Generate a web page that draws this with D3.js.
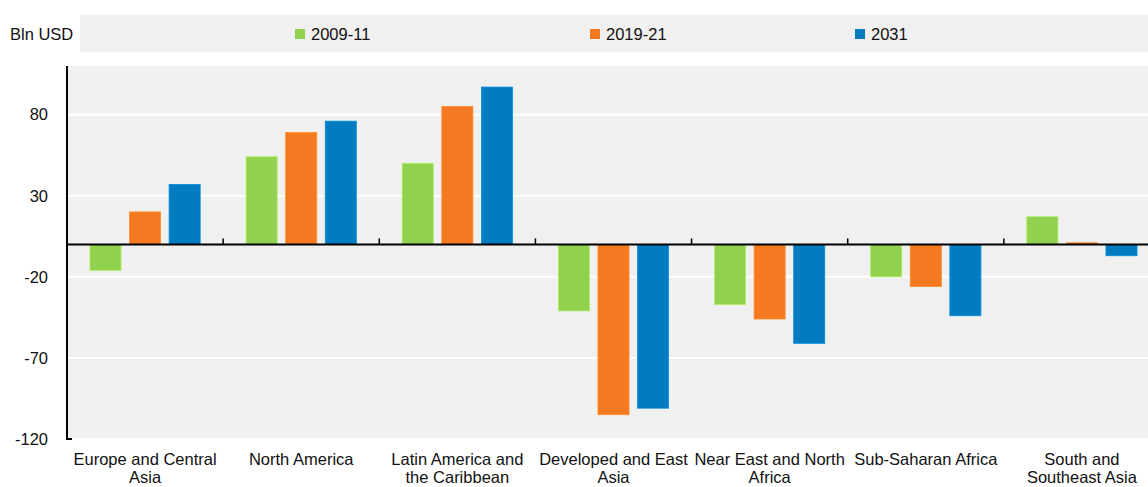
<!DOCTYPE html>
<html>
<head>
<meta charset="utf-8">
<script src="https://cdn.jsdelivr.net/npm/d3@7"></script>
<style>
  body { margin: 0; background: #fff; }
  svg { display: block; font-family: "Liberation Sans", Arial, sans-serif; }
</style>
</head>
<body>
<div id="canvas"></div>
<script>
// regions, each label split over the lines it is drawn on
const regions = [
  "Europe and Central Asia",
  "North America",
  "Latin America and the Caribbean",
  "Developed and East Asia",
  "Near East and North Africa",
  "Sub-Saharan Africa",
  "South and Southeast Asia"
];
const regionLines = [
  ["Europe and Central", "Asia"],
  ["North America"],
  ["Latin America and", "the Caribbean"],
  ["Developed and East", "Asia"],
  ["Near East and North", "Africa"],
  ["Sub-Saharan Africa"],
  ["South and", "Southeast Asia"]
];

const seriesNames = ["2009-11", "2019-21", "2031"];
const colors = ["#92d050", "#f47920", "#037bc1"];

// Bln USD
const v2009 = [-16, 54, 50, -41, -37, -20, 17];
const v2019 = [20, 69, 85, -105, -46, -26, 1];
const v2031 = [37, 76, 97, -101, -61, -44, -7];

const yTicks = [-120, -70, -20, 30, 80];
const unitLabel = "Bln USD";

const W = 1148, H = 487;
const plot = {left: 67, right: 1160, top: 66, bottom: 439};
const fs = 16.5;

const svg = d3.select("#canvas")
  .append("svg")
    .attr("width", W)
    .attr("height", H);

const x0 = d3.scaleBand()
  .domain(regions)
  .range([plot.left, plot.right]);

const x1 = d3.scaleBand()
  .domain(seriesNames)
  .range([0, x0.bandwidth()])
  .paddingInner(0.215)
  .paddingOuter(0.58);

const y = d3.scaleLinear()
  .domain([-120, 110])
  .range([plot.bottom, plot.top]);

// legend strip
svg.append("rect")
  .attr("x", 80).attr("y", 15)
  .attr("width", W - 80).attr("height", 37)
  .attr("fill", "#f0f0f0");

svg.append("text")
  .attr("x", 10).attr("y", 40)
  .attr("font-size", fs)
  .attr("fill", "#111")
  .text(unitLabel);

const legendX = [295, 590, 855];
const legend = svg.selectAll(".legend")
  .data(seriesNames)
  .enter()
  .append("g")
    .attr("class", "legend")
    .attr("transform", (d, i) => `translate(${legendX[i]},29)`);

legend.append("rect")
  .attr("width", 10).attr("height", 10)
  .attr("fill", (d, i) => colors[i]);

legend.append("text")
  .attr("x", 16).attr("y", 11)
  .attr("font-size", fs)
  .attr("fill", "#111")
  .text(d => d);

// plot background
svg.append("rect")
  .attr("x", plot.left).attr("y", plot.top)
  .attr("width", W - plot.left).attr("height", plot.bottom - plot.top)
  .attr("fill", "#f0f0f0");

// gridlines
svg.selectAll(".grid")
  .data(yTicks)
  .enter()
  .append("line")
    .attr("x1", plot.left).attr("x2", W)
    .attr("y1", d => y(d)).attr("y2", d => y(d))
    .attr("stroke", "#fff")
    .attr("stroke-width", 2);

// bars
const rows = regions.map((r, i) => ({
  region: r,
  values: [v2009[i], v2019[i], v2031[i]]
}));

const groups = svg.selectAll(".group")
  .data(rows)
  .enter()
  .append("g")
    .attr("transform", d => `translate(${x0(d.region)},0)`);

groups.selectAll("rect")
  .data(d => d.values.map((v, i) => ({key: seriesNames[i], value: v, i: i})))
  .enter()
  .append("rect")
    .attr("x", d => x1(d.key))
    .attr("y", d => y(Math.max(0, d.value)))
    .attr("width", x1.bandwidth())
    .attr("height", d => Math.abs(y(d.value) - y(0)))
    .attr("fill", d => colors[d.i])
    .attr("stroke", d => d3.color(colors[d.i]).brighter(0.4))
    .attr("stroke-width", 0.8);

// y axis (plain hyphen for negatives, as in the original)
const yAxis = d3.axisLeft(y)
  .tickValues(yTicks)
  .tickSize(0)
  .tickPadding(19)
  .tickFormat(d => String(d));

const gy = svg.append("g")
  .attr("transform", `translate(${plot.left},0)`)
  .call(yAxis);
gy.select(".domain").remove();
gy.selectAll("text")
  .attr("font-size", fs)
  .attr("font-family", "Liberation Sans, Arial, sans-serif")
  .attr("fill", "#111");

svg.append("line")
  .attr("x1", plot.left).attr("x2", plot.left)
  .attr("y1", plot.top).attr("y2", plot.bottom + 1)
  .attr("stroke", "#000")
  .attr("stroke-width", 2);
svg.append("line")
  .attr("x1", plot.left - 1).attr("x2", plot.left + 5)
  .attr("y1", plot.bottom).attr("y2", plot.bottom)
  .attr("stroke", "#000")
  .attr("stroke-width", 2);

// zero line with group separators
svg.append("line")
  .attr("x1", plot.left).attr("x2", W)
  .attr("y1", y(0)).attr("y2", y(0))
  .attr("stroke", "#000")
  .attr("stroke-width", 2);

svg.selectAll(".sep")
  .data(regions.slice(1))
  .enter()
  .append("line")
    .attr("x1", d => x0(d)).attr("x2", d => x0(d))
    .attr("y1", y(0) - 6).attr("y2", y(0))
    .attr("stroke", "#000")
    .attr("stroke-width", 1.5);

// category labels
const labels = svg.selectAll(".cat")
  .data(regions)
  .enter()
  .append("text")
    .attr("x", d => x0(d) + x0.bandwidth() / 2)
    .attr("y", 465)
    .attr("text-anchor", "middle")
    .attr("font-size", fs)
    .attr("fill", "#111");

labels.selectAll("tspan")
  .data((d, i) => regionLines[i])
  .enter()
  .append("tspan")
    .attr("x", function() { return d3.select(this.parentNode).attr("x"); })
    .attr("dy", (d, i) => i === 0 ? 0 : 18)
    .text(d => d);
</script>
</body>
</html>
